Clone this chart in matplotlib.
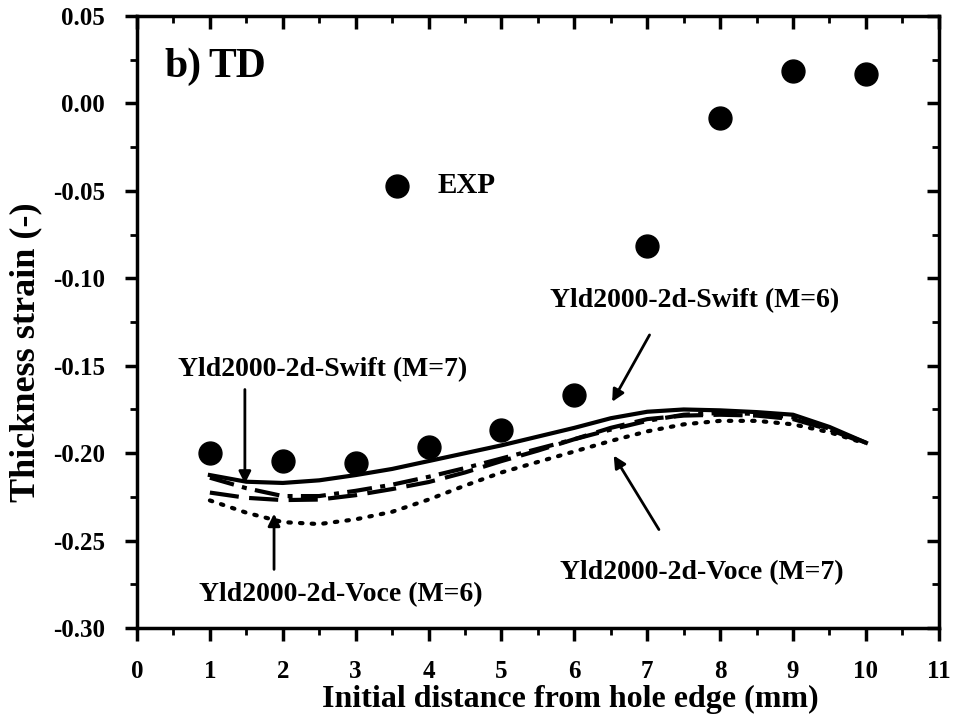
import matplotlib
matplotlib.use('Agg')
import matplotlib.pyplot as plt
from matplotlib.ticker import MultipleLocator
import numpy as np

plt.rcParams['font.family'] = ['Liberation Serif', 'DejaVu Serif']
plt.rcParams['font.weight'] = 'bold'

# experimental points
x_exp = [1, 2, 3, 4, 5, 6, 7, 8, 9, 10]
y_exp = [-0.200, -0.2045, -0.2057, -0.1965, -0.187, -0.1667, -0.0813, -0.0086, 0.0183, 0.0166]

# simulated curves, read at 0.5 mm steps
x_sim = [1, 1.5, 2, 2.5, 3, 3.5, 4, 4.5, 5, 5.5, 6, 6.5, 7, 7.5, 8, 8.5, 9, 9.5, 10]
swift_m6 = [-0.2125, -0.2163, -0.2170, -0.2155, -0.2125, -0.2090, -0.2045, -0.2000, -0.1955, -0.1905,
            -0.1855, -0.1800, -0.1763, -0.1750, -0.1755, -0.1765, -0.1780, -0.1850, -0.1940]
swift_m7 = [-0.2140, -0.2200, -0.2245, -0.2245, -0.2215, -0.2180, -0.2135, -0.2085, -0.2030, -0.1975,
            -0.1920, -0.1865, -0.1815, -0.1780, -0.1770, -0.1775, -0.1795, -0.1860, -0.1940]
voce_m7 = [-0.2225, -0.2255, -0.2268, -0.2265, -0.2240, -0.2205, -0.2165, -0.2110, -0.2045, -0.1985,
           -0.1920, -0.1855, -0.1805, -0.1785, -0.1780, -0.1785, -0.1805, -0.1865, -0.1945]
voce_m6 = [-0.2270, -0.2340, -0.2394, -0.2405, -0.2378, -0.2335, -0.2265, -0.2185, -0.2110, -0.2050,
           -0.1990, -0.1930, -0.1875, -0.1835, -0.1815, -0.1815, -0.1835, -0.1880, -0.1945]

fig = plt.figure(figsize=(9.58, 7.22), dpi=100)
ax = fig.add_axes([0.143, 0.130, 0.837, 0.848])

ax.plot(x_sim, swift_m6, color='k', lw=3, ls='-')
ax.plot(x_sim, swift_m7, color='k', lw=3, ls=(0, (6, 2, 1.2, 2)))
ax.plot(x_sim, voce_m7, color='k', lw=3, ls=(0, (7, 2.5)))
ax.plot(x_sim, voce_m6, color='k', lw=3, ls=(0, (0.6, 2.2)), dash_capstyle='round')
ax.plot(x_exp, y_exp, 'o', color='k', ms=16.5, ls='none')

# legend-like marker for EXP
ax.plot([3.57], [-0.047], 'o', color='k', ms=16.5)
ax.text(4.13, -0.047, 'EXP', fontsize=21, fontweight='bold', va='center', ha='left')
ax.text(0.38, 0.021, 'b)', fontsize=30, fontweight='bold', va='center', ha='left')
ax.text(0.98, 0.021, 'TD', fontsize=30, fontweight='bold', va='center', ha='left')

arrow = dict(arrowstyle='-|>', color='k', lw=2, mutation_scale=18)
fs = 20
ax.text(2.55, -0.152, 'Yld2000-2d-Swift (M=7)', fontsize=fs, fontweight='bold', ha='center', va='center')
ax.annotate('', xy=(1.48, -0.219), xytext=(1.48, -0.162), arrowprops=arrow)
ax.text(7.65, -0.113, 'Yld2000-2d-Swift (M=6)', fontsize=fs, fontweight='bold', ha='center', va='center')
ax.annotate('', xy=(6.5, -0.172), xytext=(7.05, -0.131), arrowprops=arrow)
ax.text(7.75, -0.268, 'Yld2000-2d-Voce (M=7)', fontsize=fs, fontweight='bold', ha='center', va='center')
ax.annotate('', xy=(6.52, -0.200), xytext=(7.18, -0.245), arrowprops=arrow)
ax.text(2.8, -0.281, 'Yld2000-2d-Voce (M=6)', fontsize=fs, fontweight='bold', ha='center', va='center')
ax.annotate('', xy=(1.88, -0.233), xytext=(1.88, -0.268), arrowprops=arrow)

ax.set_xlim(0, 11)
ax.set_ylim(-0.30, 0.05)
ax.xaxis.set_major_locator(MultipleLocator(1))
ax.xaxis.set_minor_locator(MultipleLocator(0.5))
ax.yaxis.set_major_locator(MultipleLocator(0.05))
ax.yaxis.set_minor_locator(MultipleLocator(0.025))
ax.yaxis.set_major_formatter(plt.FuncFormatter(lambda v, p: '%.2f' % v))

for s in ax.spines.values():
    s.set_linewidth(2.5)
ax.tick_params(which='major', length=9, width=2.5, labelsize=18, pad=14)
ax.tick_params(which='minor', length=5, width=2)
ax.tick_params(axis='x', which='both', bottom=True, top=False, direction='out')
ax.tick_params(axis='y', which='both', left=True, right=False, direction='out')
for lab in ax.get_xticklabels() + ax.get_yticklabels():
    lab.set_fontweight('bold')

# inward ticks on top and right
sx = ax.secondary_xaxis('top')
sx.xaxis.set_major_locator(MultipleLocator(1))
sx.xaxis.set_minor_locator(MultipleLocator(0.5))
sx.tick_params(which='major', direction='in', length=9, width=2.5, labeltop=False)
sx.tick_params(which='minor', direction='in', length=5, width=2)
sy = ax.secondary_yaxis('right')
sy.yaxis.set_major_locator(MultipleLocator(0.05))
sy.yaxis.set_minor_locator(MultipleLocator(0.025))
sy.tick_params(which='major', direction='in', length=9, width=2.5, labelright=False)
sy.tick_params(which='minor', direction='in', length=5, width=2)

ax.set_xlabel('Initial distance from hole edge (mm)', fontsize=23, fontweight='bold')
ax.set_ylabel('Thickness strain (-)', fontsize=26, fontweight='bold')
ax.xaxis.set_label_coords(0.54, -0.093)
ax.yaxis.set_label_coords(-0.118, 0.45)

plt.savefig('out.png', dpi=100)
